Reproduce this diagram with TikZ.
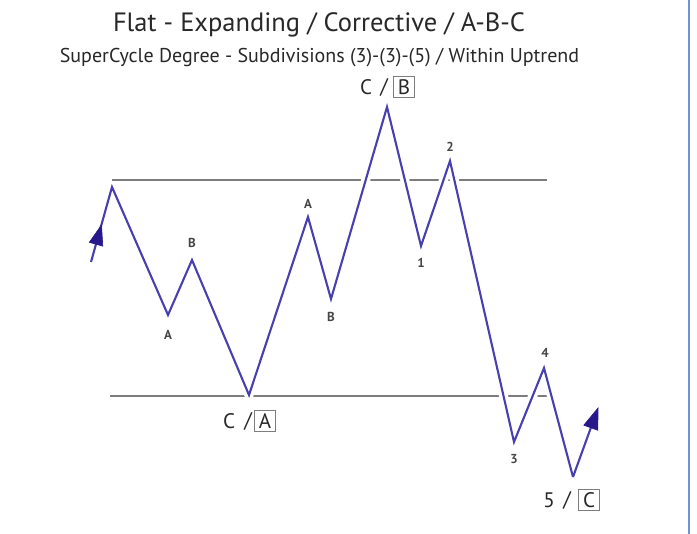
\documentclass[tikz,border=0pt]{standalone}
\usepackage{fontspec}
\setmainfont{PT Sans}
\usetikzlibrary{calc}
\definecolor{wave}{RGB}{72,64,176}
\definecolor{arrowc}{RGB}{40,24,140}
\definecolor{guide}{RGB}{125,125,125}
\definecolor{txt}{RGB}{40,40,40}
\definecolor{lbl}{RGB}{70,70,70}
\definecolor{frameblue}{RGB}{110,150,205}
\begin{document}
\begin{tikzpicture}[x=1pt,y=-1pt,
  guideline/.style={draw=guide, line width=1.4pt},
  waveline/.style={draw=wave, line width=2.1pt, line join=miter},
  gapline/.style={draw=white, line width=9pt, line join=round, line cap=round},
  headfill/.style={fill=arrowc, draw=arrowc, line width=0.6pt, line join=miter},
  small/.style={font=\fontsize{13}{15}\selectfont\bfseries, text=lbl},
  big/.style={font=\fontsize{21}{23}\selectfont, text=txt, inner sep=0pt},
  boxed/.style={big, draw=guide, line width=0.8pt, minimum width=21pt, minimum height=21pt, inner sep=1pt}
]
\useasboundingbox (0,0) rectangle (697,534);
\fill[white] (0,0) rectangle (697,534);
\draw[frameblue, line width=1.2pt] (689,0) -- (689,534);

% titles
\node[font=\fontsize{26.5}{30}\selectfont, text=txt, anchor=base, inner sep=0pt] (title) at (319,32) {Flat - Expanding / Corrective / A-B-C};
\node[font=\fontsize{20}{24}\selectfont, text=txt, anchor=base, inner sep=0pt] (sub) at (319.5,63) {SuperCycle Degree - Subdivisions (3)-(3)-(5) / Within Uptrend};

% wave points
\coordinate (s)  at (91,262);
\coordinate (sa) at (101.5,225);
\coordinate (p0) at (112,187);
\coordinate (a1) at (168,315);
\coordinate (b1) at (192,260);
\coordinate (ca) at (249,395);
\coordinate (a2) at (308,217);
\coordinate (b2) at (331,299);
\coordinate (cb) at (387,107);
\coordinate (w1) at (421,246);
\coordinate (w2) at (450,161);
\coordinate (w3) at (514,442);
\coordinate (w4) at (544,368);
\coordinate (w5) at (573,477);
\coordinate (e)  at (598,408);

% guide lines
\coordinate (tl) at (112,180);
\coordinate (tr) at (547,180);
\coordinate (bl) at (110,396);
\coordinate (br) at (550,396);
\draw[guideline] (tl) -- (tr);
\draw[guideline] (bl) -- (br);

% wave with white gaps
\draw[gapline] (p0) -- (a1) -- (b1) -- (ca) -- (a2) -- (b2) -- (cb) -- (w1) -- (w2) -- (w3) -- (w4) -- (w5);
\draw[waveline] (s) -- (p0) -- (a1) -- (b1) -- (ca) -- (a2) -- (b2) -- (cb) -- (w1) -- (w2) -- (w3) -- (w4) -- (w5);

% end arrow
\coordinate (eb) at ($(e)!21pt!(w5)$);
\draw[waveline] (w5) -- (eb);
\fill[headfill] (e) -- ($(eb)!7.5pt!90:(e)$) -- ($(eb)!7.5pt!-90:(e)$) -- cycle;

% start arrowhead
\coordinate (sb) at ($(sa)!20pt!(s)$);
\fill[headfill] (sa) -- ($(sb)!7pt!90:(sa)$) -- ($(sb)!7pt!-90:(sa)$) -- cycle;

% small labels
\node[small] (la1) at (168,335) {A};
\node[small] (lb1) at (192,243) {B};
\node[small] (la2) at (308,204) {A};
\node[small] (lb2) at (331,317) {B};
\node[small] (l1) at (421,263) {1};
\node[small] (l2) at (450,147) {2};
\node[small] (l3) at (514,459) {3};
\node[small] (l4) at (545,353) {4};

% degree labels
\node[big] (cA) at (229,421) {C};
\node[big] (sA) at (248,421) {/};
\node[boxed] (bA) at (265,421) {A};

\node[big] (cB) at (366,87) {C};
\node[big] (sB) at (384,87) {/};
\node[boxed] (bB) at (404,87) {B};

\node[big] (c5) at (549,500) {5};
\node[big] (s5) at (567,500) {/};
\node[boxed] (bC) at (589,500) {C};
\end{tikzpicture}
\end{document}
